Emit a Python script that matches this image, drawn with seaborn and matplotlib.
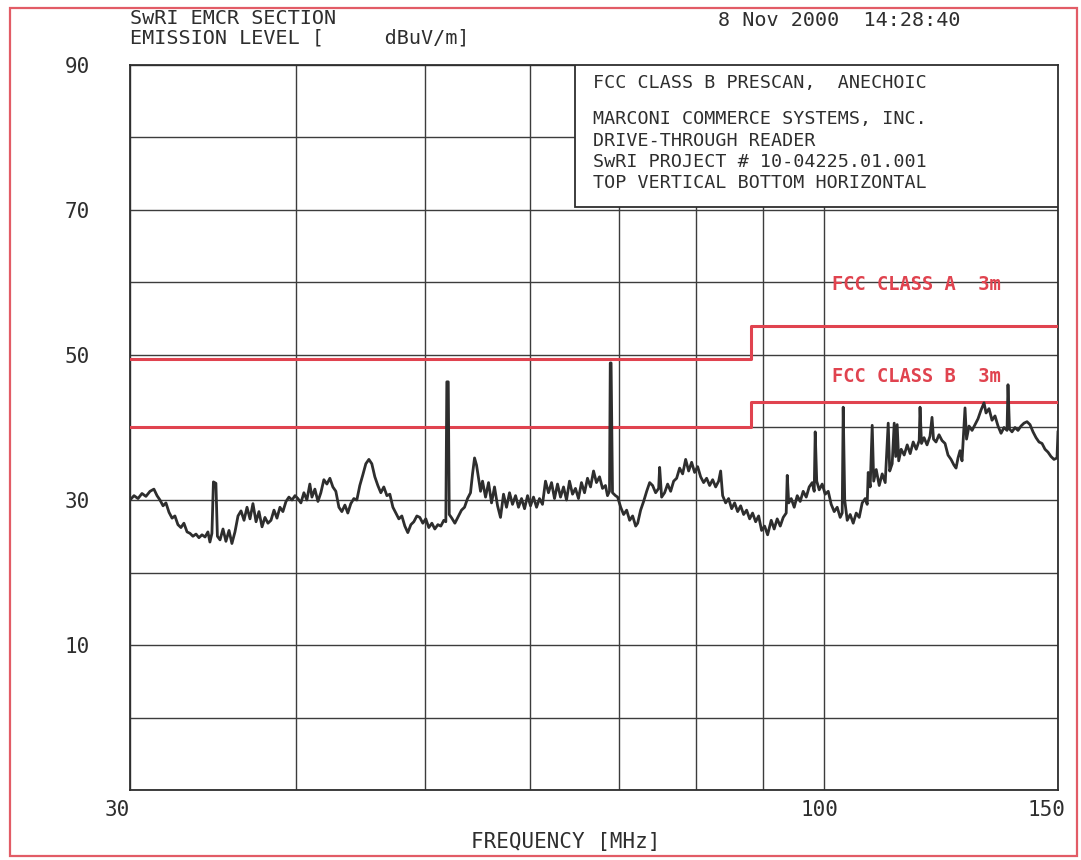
import matplotlib
matplotlib.use("Agg")
from matplotlib import pyplot as plt
from matplotlib import transforms
from matplotlib.patches import Rectangle
from matplotlib.ticker import NullLocator, NullFormatter
import seaborn as sns

# Emission trace: frequency [MHz] and level [dBuV/m]
trace_freq = [
    30.00, 30.21, 30.42, 30.63, 30.84, 31.06, 31.27, 31.44, 31.60, 31.77, 31.93, 32.10, 32.27, 32.43,
    32.60, 32.77, 32.94, 33.12, 33.29, 33.46, 33.64, 33.81, 33.99, 34.17, 34.34, 34.46, 34.58, 34.67,
    34.82, 34.91, 35.07, 35.25, 35.43, 35.62, 35.80, 35.99, 36.18, 36.37, 36.56, 36.75, 36.94, 37.13,
    37.33, 37.52, 37.72, 37.91, 38.11, 38.31, 38.51, 38.71, 38.91, 39.11, 39.32, 39.52, 39.73, 39.94,
    40.14, 40.35, 40.56, 40.77, 40.98, 41.13, 41.34, 41.56, 41.77, 41.99, 42.21, 42.43, 42.65, 42.87,
    43.10, 43.32, 43.55, 43.77, 44.00, 44.23, 44.46, 44.69, 44.93, 45.16, 45.40, 45.63, 45.87, 46.11,
    46.35, 46.59, 46.84, 47.08, 47.33, 47.57, 47.82, 48.07, 48.32, 48.57, 48.83, 49.08, 49.34, 49.59,
    49.85, 50.11, 50.37, 50.64, 50.90, 51.17, 51.43, 51.70, 51.88, 51.97, 52.10, 52.19, 52.42, 52.70,
    53.04, 53.31, 53.59, 53.87, 54.15, 54.34, 54.53, 54.72, 54.91, 55.10, 55.29, 55.58, 55.87, 56.16,
    56.45, 56.75, 57.04, 57.34, 57.64, 57.94, 58.24, 58.55, 58.85, 59.16, 59.47, 59.78, 60.09, 60.40,
    60.72, 61.03, 61.35, 61.67, 61.99, 62.32, 62.64, 62.97, 63.30, 63.63, 63.96, 64.29, 64.63, 64.96,
    65.30, 65.64, 65.99, 66.33, 66.68, 67.03, 67.37, 67.73, 68.08, 68.43, 68.67, 68.91, 69.00, 69.10,
    69.27, 69.63,
    69.89, 70.26, 70.62, 70.99, 71.36, 71.73, 72.11, 72.36, 72.73, 73.11, 73.50, 73.88, 74.26, 74.65,
    75.04, 75.17, 75.43, 75.82, 76.22, 76.62, 77.02, 77.42, 77.82, 78.23, 78.64, 79.05, 79.46, 79.87,
    80.29, 80.71, 81.13, 81.55, 81.98, 82.41, 82.84, 83.27, 83.56, 83.85, 84.29, 84.72, 85.17, 85.61,
    86.06, 86.51, 86.96, 87.41, 87.87, 88.32, 88.79, 89.25, 89.71, 90.18, 90.65,
    91.22, 91.69, 92.17, 92.66, 93.14, 93.62, 93.79, 94.03, 94.44, 94.93, 95.43, 95.92, 96.42, 96.93,
    97.43, 97.94, 98.28, 98.45, 98.71, 99.14, 99.65, 100.17, 100.70, 101.22, 101.75, 102.28, 102.81,
    103.17, 103.35, 103.62, 104.07, 104.61, 105.16, 105.71, 106.26, 106.81, 107.37, 107.74, 107.93,
    108.30, 108.68, 108.96, 109.44, 110.01, 110.58, 111.16, 111.74, 112.03, 112.51, 112.91, 113.20,
    113.49, 113.79, 114.28, 114.88, 115.48, 116.08, 116.69, 117.30, 117.91,
    118.08, 118.38, 118.90, 119.52, 120.14, 120.56, 120.87, 121.40, 122.03, 122.67, 123.31, 123.95,
    124.60, 125.25, 125.69, 126.12, 126.56, 127.00, 127.66, 128.00, 128.55, 129.23, 129.89, 130.57,
    131.25, 131.94, 132.40, 133.09, 133.78, 134.48, 135.18, 135.89, 136.59, 137.31, 137.54, 137.90,
    138.50, 139.22, 139.95, 140.68, 141.41, 142.15, 142.89, 143.64, 144.39, 145.14, 145.90, 146.66,
    147.42, 148.19, 148.96, 149.74, 150.00,
]
trace_level = [
    30.0, 30.6, 30.2, 30.9, 30.5, 31.2, 31.5, 30.6, 30.0, 29.2, 29.6, 28.3, 27.5, 27.8,
    26.6, 26.2, 26.8, 25.6, 25.4, 25.0, 25.3, 24.8, 25.2, 24.9, 25.6, 24.2, 25.4, 32.5,
    32.3, 25.0, 24.5, 26.0, 24.3, 25.8, 24.0, 25.6, 27.8, 28.5, 27.2, 29.0, 27.4, 29.5,
    27.0, 28.4, 26.3, 27.6, 26.8, 27.2, 28.6, 27.5, 29.0, 28.4, 29.8, 30.4, 30.0, 30.6,
    30.2, 29.6, 31.0, 30.0, 32.2, 30.4, 31.5, 29.8, 31.0, 32.8, 32.2, 33.0, 31.8, 31.2,
    29.0, 28.4, 29.3, 28.2, 29.5, 30.2, 30.0, 32.0, 33.5, 35.0, 35.6, 35.0, 33.2, 32.0,
    31.0, 31.8, 30.6, 30.8, 29.0, 28.2, 27.4, 27.8, 26.4, 25.5, 26.6, 27.0, 27.8, 27.6,
    26.8, 27.4, 26.2, 26.8, 26.0, 26.6, 26.4, 27.2, 27.0, 46.3, 46.3, 28.0, 27.5, 26.8,
    27.8, 28.6, 29.0, 30.2, 31.0, 33.6, 35.8, 34.8, 33.0, 31.2, 32.6, 30.4, 32.4, 29.6,
    31.8, 29.2, 27.6, 30.8, 29.0, 31.0, 29.4, 30.6, 29.0, 30.2, 28.8, 30.6, 29.2, 30.4,
    29.0, 30.2, 29.4, 32.6, 31.0, 32.4, 30.2, 32.2, 30.4, 31.8, 30.0, 32.6, 30.8, 31.6,
    30.2, 32.4, 31.0, 33.0, 31.8, 34.0, 32.4, 33.2, 31.6, 32.0, 30.6, 31.2, 48.9, 48.9,
    31.0, 30.6,
    30.4, 29.0, 28.0, 28.6, 27.2, 27.8, 26.4, 26.8, 28.6, 29.8, 31.2, 32.4, 32.0, 31.0,
    31.6, 34.5, 30.4, 31.0, 32.2, 31.2, 32.6, 33.0, 34.4, 33.6, 35.6, 34.0, 35.2, 33.8,
    34.6, 33.2, 32.4, 33.0, 32.0, 32.8, 31.8, 32.6, 34.0, 30.6, 29.6, 30.2, 28.8, 29.6,
    28.4, 29.2, 28.0, 28.6, 27.4, 28.2, 27.0, 27.8, 25.8, 26.4, 25.2,
    27.2, 26.0, 27.4, 26.4, 27.6, 28.2, 33.4, 29.6, 30.2, 29.0, 30.6, 29.8, 31.2, 30.4,
    31.8, 32.4, 31.2, 39.4, 32.6, 31.4, 32.2, 30.8, 31.2, 29.4, 28.4, 29.0, 27.6,
    28.2, 42.8, 30.0, 27.2, 28.0, 26.8, 28.2, 27.6, 29.6, 30.2, 29.4, 33.8,
    31.8, 40.3, 32.6, 34.2, 32.0, 33.6, 32.4, 40.6, 34.0, 35.0, 40.6, 36.0,
    40.4, 35.4, 37.0, 36.2, 37.6, 36.4, 38.0, 37.0, 38.2,
    42.8, 37.8, 38.6, 37.6, 38.8, 41.4, 38.4, 38.0, 39.0, 38.2, 37.8, 36.2,
    35.6, 34.8, 34.4, 35.8, 36.8, 35.4, 42.7, 38.4, 40.2, 39.6, 40.4, 41.2,
    42.4, 43.4, 42.0, 42.6, 41.0, 41.6, 40.2, 39.2, 40.0, 39.6, 45.9, 39.8,
    39.4, 40.0, 39.6, 40.2, 40.6, 40.8, 40.4, 39.4, 38.6, 38.0, 37.8, 37.0,
    36.6, 36.0, 35.6, 35.8, 39.5,
]

# FCC 3 m limits, step at 88 MHz
limit_freq = [30, 88, 88, 150]
class_a_level = [49.5, 49.5, 54.0, 54.0]
class_b_level = [40.0, 40.0, 43.5, 43.5]

x_ticks = [30, 40, 50, 60, 70, 80, 90, 100, 150]
x_tick_labels = ["30", "", "", "", "", "", "", "100", "150"]
y_ticks = [-10, 0, 10, 20, 30, 40, 50, 60, 70, 80, 90]
y_tick_labels = ["", "", "10", "", "30", "", "50", "", "70", "", "90"]

header_lines = ["SwRI EMCR SECTION", "EMISSION LEVEL [     dBuV/m]"]
date_text = "8 Nov 2000  14:28:40"
box_lines = [
    "FCC CLASS B PRESCAN,  ANECHOIC",
    "MARCONI COMMERCE SYSTEMS, INC.",
    "DRIVE-THROUGH READER",
    "SwRI PROJECT # 10-04225.01.001",
    "TOP VERTICAL BOTTOM HORIZONTAL",
]

RED = "#e0434f"
INK = "#2e2e2e"
W, H = 1081, 860

sns.set_style("white")
plt.rcParams["font.family"] = ["DejaVu Sans Mono", "DejaVu Sans"]

fig = plt.figure(figsize=(W / 100, H / 100), dpi=100)
ax = fig.add_axes([130 / W, 70 / H, 928 / W, 725 / H])

# limit lines and the measured trace
sns.lineplot(x=limit_freq, y=class_a_level, ax=ax, color=RED, linewidth=2.2,
             estimator=None, sort=False, zorder=3)
sns.lineplot(x=limit_freq, y=class_b_level, ax=ax, color=RED, linewidth=2.2,
             estimator=None, sort=False, zorder=3)
sns.lineplot(x=trace_freq, y=trace_level, ax=ax, color=INK, linewidth=2.0,
             estimator=None, sort=False, zorder=4)

ax.set_xscale("log")
ax.set_xlim(30, 150)
ax.set_ylim(-10, 90)
ax.set_xticks(x_ticks)
ax.set_xticklabels(x_tick_labels)
ax.xaxis.set_minor_locator(NullLocator())
ax.xaxis.set_minor_formatter(NullFormatter())
ax.set_yticks(y_ticks)
ax.set_yticklabels(y_tick_labels)
ax.tick_params(axis="both", length=0, labelsize=15, colors=INK)
ax.tick_params(axis="y", pad=29)
ax.tick_params(axis="x", pad=7)

xl = ax.get_xticklabels()
xl[0].set_ha("right")
shift = transforms.ScaledTranslation(-0.12, 0, fig.dpi_scale_trans)
xl[-1].set_transform(xl[-1].get_transform() + shift)
xl[-2].set_transform(xl[-2].get_transform() + transforms.ScaledTranslation(-0.05, 0, fig.dpi_scale_trans))

ax.grid(True, color="#3c3c3c", linewidth=1.0)
ax.set_axisbelow(True)
for sp in ax.spines.values():
    sp.set_color(INK)
    sp.set_linewidth(1.3)

ax.set_ylabel("")
ax.set_xlabel("FREQUENCY [MHz]", fontsize=15, color=INK)
ax.xaxis.set_label_coords(0.469, -0.058)

# annotation box in the upper right of the grid
ax.add_patch(Rectangle((0.4795, 0.8041), 0.5205, 0.1959, transform=ax.transAxes,
                       facecolor="white", edgecolor=INK, linewidth=1.3, zorder=3.5))

fig.text(130 / W, 1 - 9 / H, header_lines[0], fontsize=14.5, color=INK, va="top")
fig.text(130 / W, 1 - 28 / H, header_lines[1], fontsize=14.5, color=INK, va="top")
fig.text(718 / W, 1 - 11 / H, date_text, fontsize=14.5, color=INK, va="top")

box_y = [83, 119, 141, 162, 183]
for txt, yy in zip(box_lines, box_y):
    fig.text(593 / W, 1 - yy / H, txt, fontsize=13.2, color=INK, va="center")

fig.text(832 / W, 1 - 284 / H, "FCC CLASS A  3m", fontsize=13.5, color=RED,
         fontweight="bold", va="center")
fig.text(832 / W, 1 - 376 / H, "FCC CLASS B  3m", fontsize=13.5, color=RED,
         fontweight="bold", va="center")

# red page border of the scanned sheet
fig.add_artist(Rectangle((10 / W, 4 / H), 1067 / W, 848 / H, transform=fig.transFigure,
                         fill=False, edgecolor="#e25c66", linewidth=1.6))

fig.savefig("out.png", dpi=100)
